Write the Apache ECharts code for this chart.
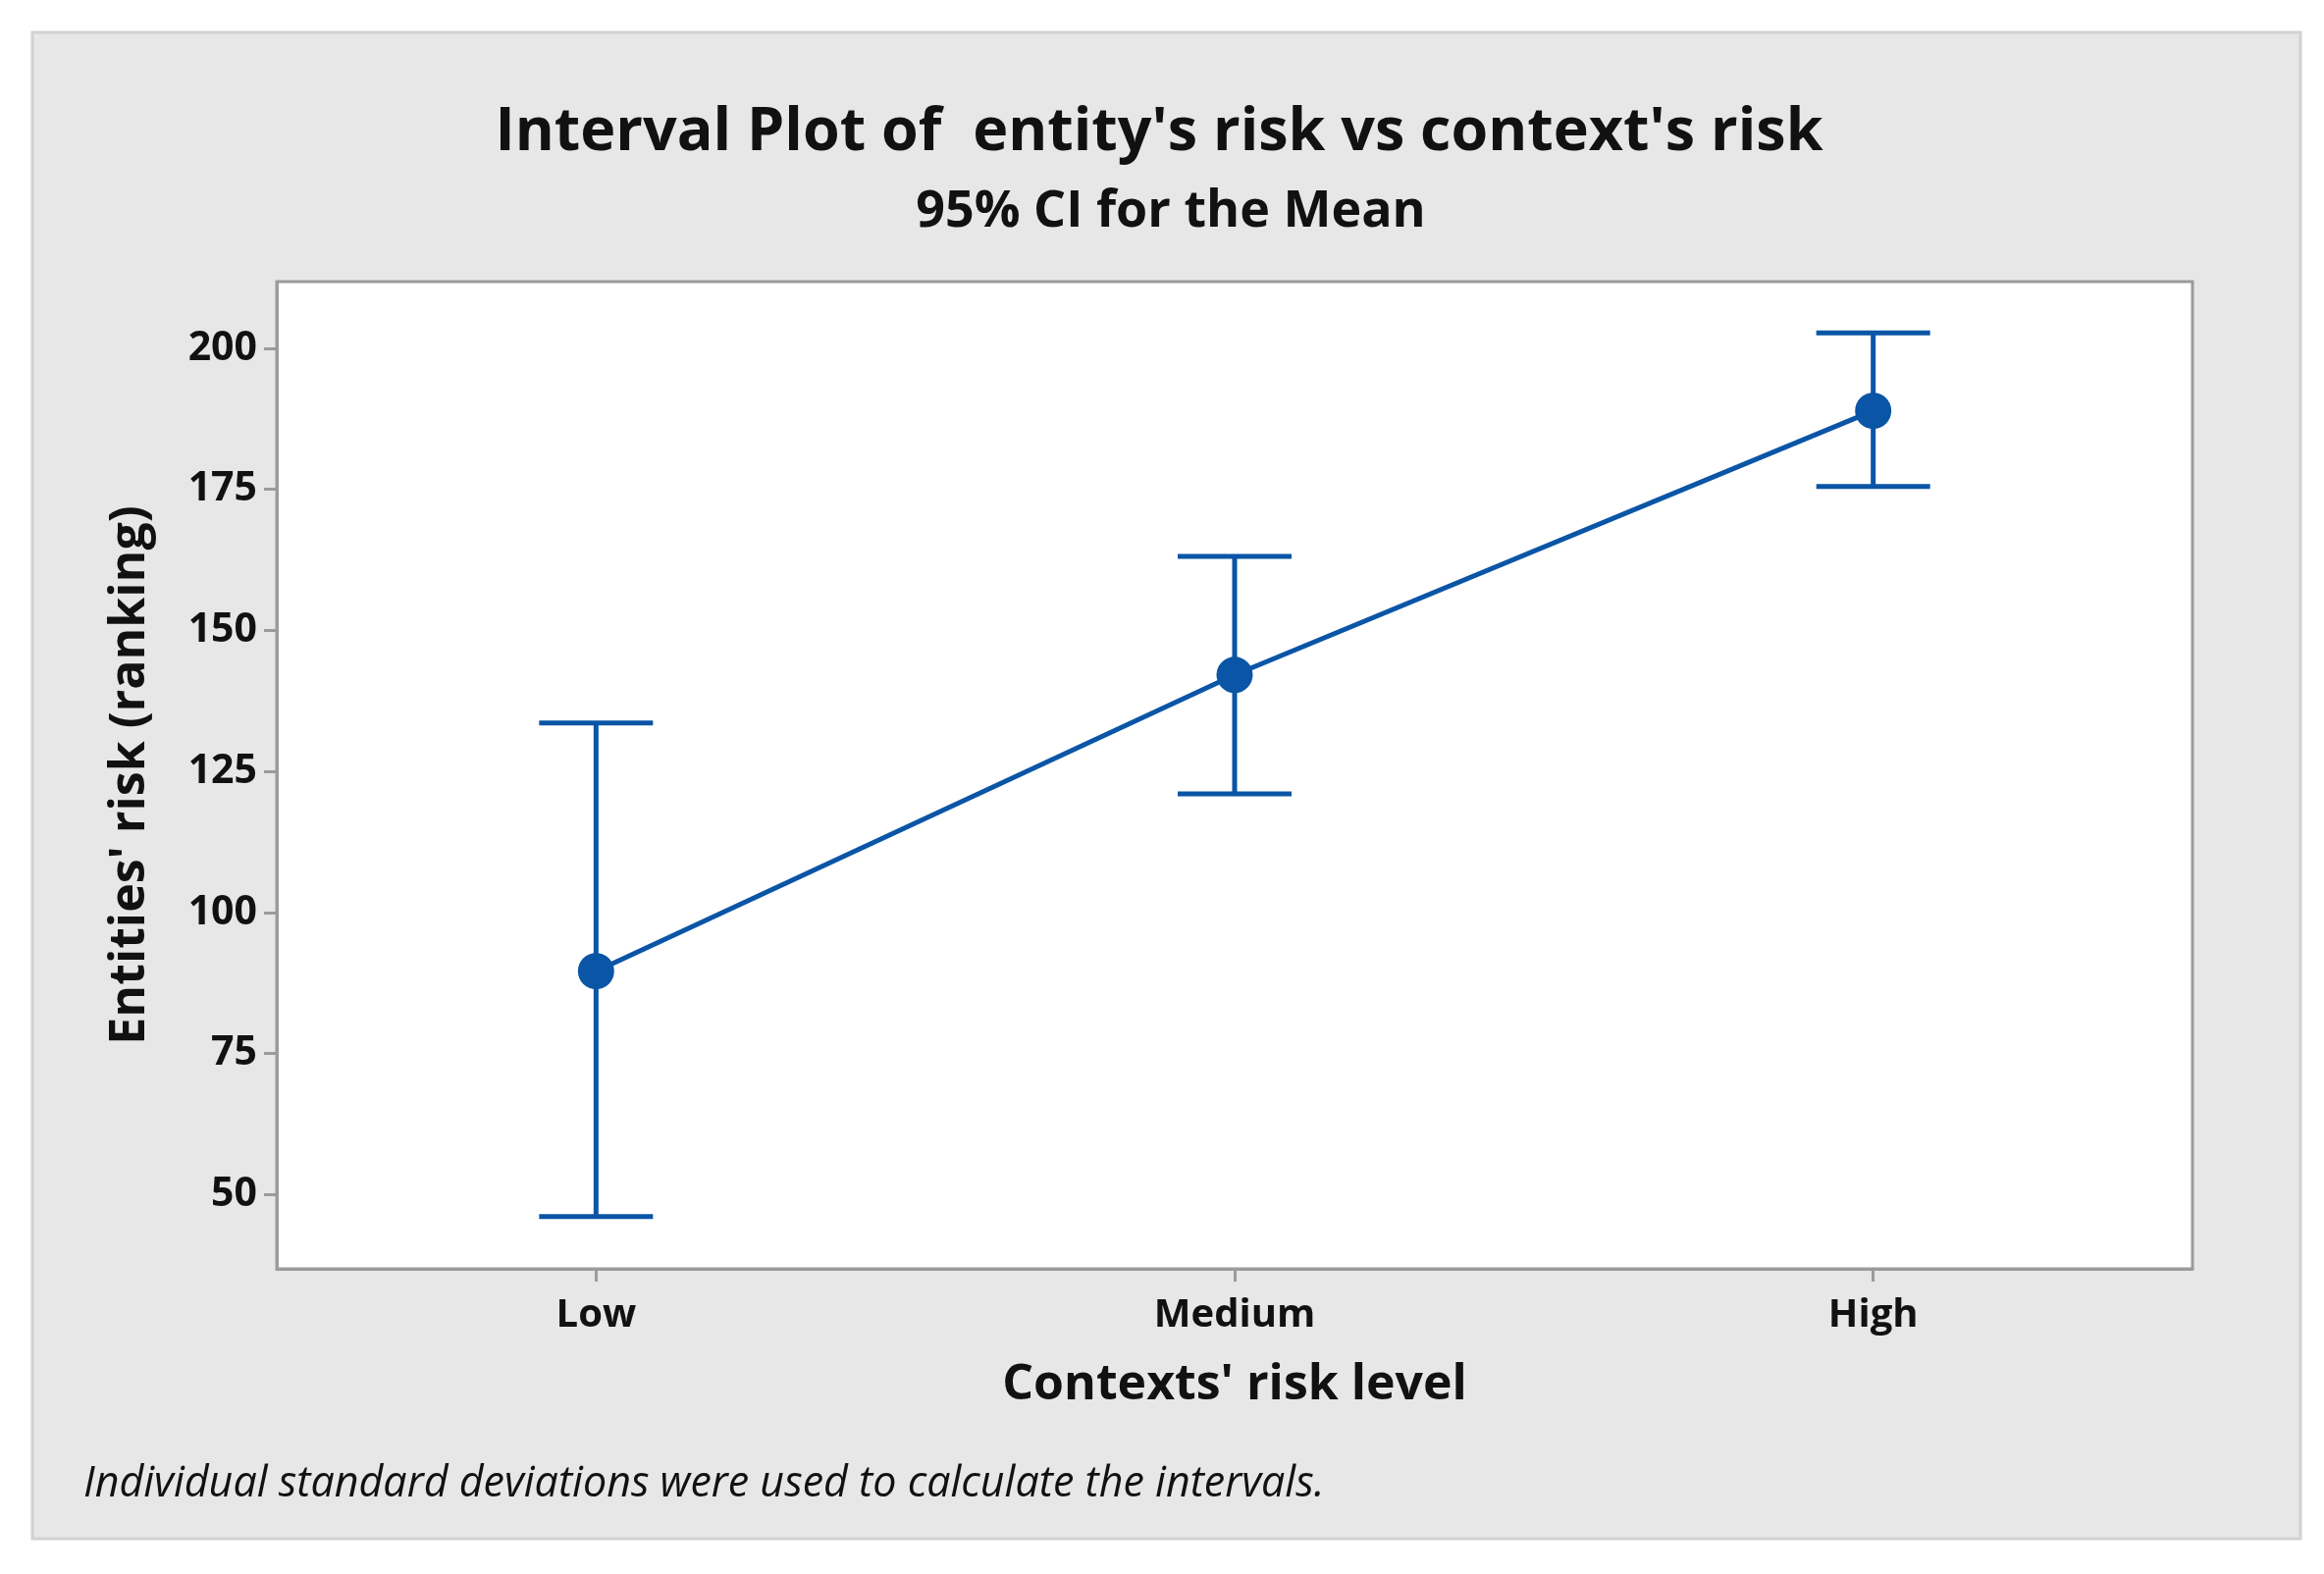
<!DOCTYPE html>
<html>
<head>
<meta charset="utf-8">
<script src="https://cdn.jsdelivr.net/npm/echarts@6/dist/echarts.min.js"></script>
<style>
html,body{margin:0;padding:0;background:#fff;}
#chart{width:2368px;height:1604px;}
</style>
</head>
<body>
<div id="chart"></div>
<script>
const categories = ['Low', 'Medium', 'High'];
const meanValues = [89.6, 142.1, 188.9];
const ciLower = [46.1, 121.0, 175.5];
const ciUpper = [133.6, 163.1, 202.7];
const yTickValues = [50, 75, 100, 125, 150, 175, 200];

const blue = '#0a55a6';
const axisGrey = '#9b9b9b';
const font = '"Open Sans", "Noto Sans", sans-serif';

const errorData = categories.map((c, i) => [i, ciLower[i], ciUpper[i]]);

const chart = echarts.init(document.getElementById('chart'));
chart.setOption({
  backgroundColor: '#ffffff',
  animation: false,
  graphic: [{
    type: 'rect',
    z: -10,
    shape: {x: 33, y: 33, width: 2311, height: 1535},
    style: {fill: '#e7e7e7', stroke: '#d2d2d2', lineWidth: 3}
  }],
  title: [{
    text: "Interval Plot of  entity's risk vs context's risk",
    left: 1176, top: 100, textAlign: 'center',
    textStyle: {fontFamily: font, fontSize: 61, fontWeight: 'bold', color: '#111'}
  }, {
    text: '95% CI for the Mean',
    left: 1188, top: 185, textAlign: 'center',
    textStyle: {fontFamily: font, fontSize: 52, fontWeight: 'bold', color: '#111'}
  }, {
    text: 'Individual standard deviations were used to calculate the intervals.',
    left: 80, top: 1486,
    textStyle: {fontFamily: font, fontSize: 43, fontWeight: 'normal', fontStyle: 'italic', color: '#111'}
  }],
  grid: {
    left: 282, top: 287, right: 134, bottom: 311,
    show: true, backgroundColor: '#ffffff', borderColor: axisGrey, borderWidth: 3
  },
  xAxis: {
    type: 'category',
    data: categories,
    boundaryGap: true,
    axisLine: {show: true, lineStyle: {color: axisGrey, width: 3}},
    axisTick: {show: true, alignWithLabel: true, length: 13, lineStyle: {color: axisGrey, width: 3}},
    axisLabel: {fontFamily: font, fontSize: 40, fontWeight: 'bold', color: '#111', margin: 28},
    splitLine: {show: false},
    name: "Contexts' risk level",
    nameLocation: 'middle',
    nameGap: 94,
    nameTextStyle: {fontFamily: font, fontSize: 50, fontWeight: 'bold', color: '#111'}
  },
  yAxis: {
    type: 'value',
    min: 36.85,
    max: 211.8,
    axisLine: {show: true, lineStyle: {color: axisGrey, width: 3}},
    axisTick: {show: true, length: 13, lineStyle: {color: axisGrey, width: 3}, customValues: yTickValues},
    axisLabel: {fontFamily: font, fontSize: 41, fontWeight: 'bold', color: '#111', margin: 20, customValues: yTickValues},
    splitLine: {show: false},
    name: "Entities' risk (ranking)",
    nameLocation: 'middle',
    nameRotate: 90,
    nameGap: 124,
    nameTextStyle: {fontFamily: font, fontSize: 50, fontWeight: 'bold', color: '#111'}
  },
  series: [{
    type: 'custom',
    data: errorData,
    z: 2,
    renderItem: function (params, api) {
      const x = api.value(0);
      const lo = api.coord([x, api.value(1)]);
      const hi = api.coord([x, api.value(2)]);
      const hw = 58;
      const st = {stroke: blue, lineWidth: 5, fill: null};
      return {
        type: 'group',
        children: [
          {type: 'line', shape: {x1: hi[0], y1: hi[1], x2: lo[0], y2: lo[1]}, style: st},
          {type: 'line', shape: {x1: hi[0] - hw, y1: hi[1], x2: hi[0] + hw, y2: hi[1]}, style: st},
          {type: 'line', shape: {x1: lo[0] - hw, y1: lo[1], x2: lo[0] + hw, y2: lo[1]}, style: st}
        ]
      };
    }
  }, {
    type: 'line',
    data: meanValues,
    z: 3,
    symbol: 'circle',
    symbolSize: 37,
    itemStyle: {color: blue},
    lineStyle: {color: blue, width: 5}
  }]
});
</script>
</body>
</html>
